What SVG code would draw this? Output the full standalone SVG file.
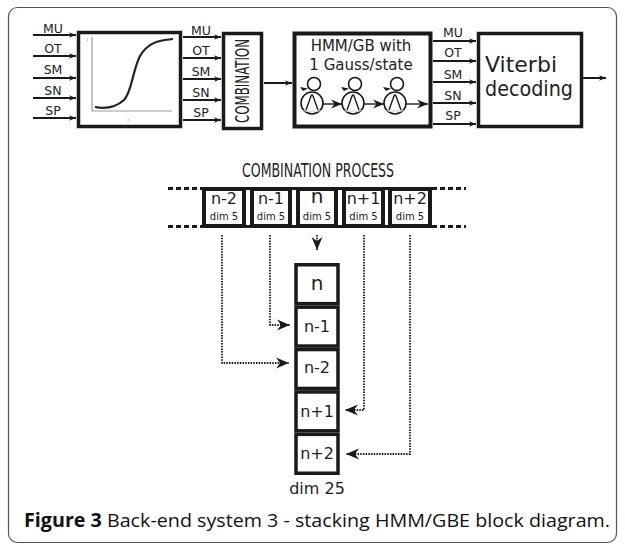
<svg xmlns="http://www.w3.org/2000/svg" width="625" height="546" viewBox="0 0 625 546">
<style>
.lbl{font-family:"DejaVu Sans",sans-serif;font-size:12.5px;fill:#222;text-anchor:middle}
.big{font-family:"DejaVu Sans",sans-serif;fill:#222}
.cond{font-family:"DejaVu Sans Condensed","Liberation Sans Narrow",sans-serif;fill:#222}
.box{fill:#fff;stroke:#1a1a1a}
.sig{stroke:#1a1a1a;stroke-width:2;fill:none}
.dot{stroke:#1a1a1a;stroke-width:1.8;fill:none;stroke-dasharray:1.5 1.2}
.st{fill:#fff;stroke:#1a1a1a;stroke-width:1.6}
</style>
<defs>
<marker id="sm" markerUnits="userSpaceOnUse" markerWidth="10" markerHeight="8" refX="7" refY="4" orient="auto" overflow="visible">
<path d="M7,4 L0,1.2 L2,4 L0,6.8 Z" fill="#1a1a1a"/>
</marker>
<marker id="dart" markerUnits="userSpaceOnUse" markerWidth="14" markerHeight="12" refX="13" refY="6" orient="auto" overflow="visible">
<path d="M13,6 L0,0.5 L4,6 L0,11.5 Z" fill="#1a1a1a"/>
</marker>
<marker id="dartS" markerUnits="userSpaceOnUse" markerWidth="12" markerHeight="10" refX="11" refY="5" orient="auto" overflow="visible">
<path d="M11,5 L0,0.5 L3.5,5 L0,9.5 Z" fill="#1a1a1a"/>
</marker>
</defs>
<rect x="8.5" y="7.5" width="608" height="535" rx="9" fill="#fff" stroke="#555" stroke-width="1.2"/>

<g id="connectors">
<g class="sig" marker-end="url(#sm)">
<path d="M33,35 H76"/><path d="M33,56 H76"/><path d="M33,78 H76"/><path d="M33,98 H76"/><path d="M33,118 H76"/>
<path d="M183,37 H221"/><path d="M183,58 H221"/><path d="M183,79 H221"/><path d="M183,100 H221"/><path d="M183,120 H221"/>
<path d="M264,83 H292"/>
<path d="M433,41 H476"/><path d="M433,61 H476"/><path d="M433,82 H476"/><path d="M433,103 H476"/><path d="M433,124 H476"/>
<path d="M583,78 H606"/>
</g>
<g class="dot">
<path d="M317,235 V250" marker-end="url(#dart)"/>
<path d="M270,235 V325 H290" marker-end="url(#dart)"/>
<path d="M222,235 V363 H289" marker-end="url(#dart)"/>
<path d="M364,235 V410 H345" marker-end="url(#dart)"/>
<path d="M410,235 V454 H346" marker-end="url(#dart)"/>
</g>
</g>

<g id="input-labels">
<text class="lbl" x="53" y="33">MU</text>
<text class="lbl" x="53" y="53">OT</text>
<text class="lbl" x="53" y="74">SM</text>
<text class="lbl" x="53" y="95">SN</text>
<text class="lbl" x="53" y="115">SP</text>
</g>

<g id="sigmoid">
<rect class="box" x="78.5" y="32.5" width="102" height="94" stroke-width="3.5"/>
<path d="M92,37 V111 H172" fill="none" stroke="#999" stroke-width="1.2"/>
<path d="M95,107 C105,109 115,108 124,100 C132,92 132,72 140,56 C147,44 156,41 165,40 L173,39" fill="none" stroke="#222" stroke-width="2.2"/>
<text x="86" y="41" font-family="DejaVu Sans,sans-serif" font-size="4" fill="#999">1</text>
<text x="127" y="121" font-family="DejaVu Sans,sans-serif" font-size="4" fill="#999">x</text>
</g>

<g id="mid-labels">
<text class="lbl" x="201" y="35">MU</text>
<text class="lbl" x="201" y="55">OT</text>
<text class="lbl" x="201" y="76">SM</text>
<text class="lbl" x="201" y="97">SN</text>
<text class="lbl" x="201" y="117">SP</text>
</g>

<g id="combination">
<rect class="box" x="223.5" y="33.5" width="38" height="95" stroke-width="3.5"/>
<text class="cond" transform="translate(249,81) rotate(-90)" x="0" y="0" font-size="19" text-anchor="middle" textLength="84" lengthAdjust="spacingAndGlyphs">COMBINATION</text>
</g>

<g id="hmm">
<rect class="box" x="294.5" y="33.5" width="136" height="93" stroke-width="4"/>
<text class="big" x="361" y="51" font-size="15" text-anchor="middle">HMM/GB with</text>
<text class="big" x="361" y="70" font-size="15" text-anchor="middle">1 Gauss/state</text>
<g id="states">
<circle cx="314" cy="84" r="6.5" fill="none" stroke="#1a1a1a" stroke-width="1.6"/>
<circle cx="355" cy="84" r="6.5" fill="none" stroke="#1a1a1a" stroke-width="1.6"/>
<circle cx="397" cy="84" r="6.5" fill="none" stroke="#1a1a1a" stroke-width="1.6"/>
<path d="M300,87 L308,88.5 L303,91 Z" fill="#1a1a1a"/>
<path d="M341,87 L349,88.5 L344,91 Z" fill="#1a1a1a"/>
<path d="M383,87 L391,88.5 L386,91 Z" fill="#1a1a1a"/>
<circle class="st" cx="312" cy="103" r="11"/>
<circle class="st" cx="353" cy="103" r="11"/>
<circle class="st" cx="395" cy="103" r="11"/>
<g fill="none" stroke="#1a1a1a" stroke-width="1.4">
<path d="M306,110 L311,96 Q312,94 313,96 L318,110"/>
<path d="M347,110 L352,96 Q353,94 354,96 L359,110"/>
<path d="M389,110 L394,96 Q395,94 396,96 L401,110"/>
</g>
<g stroke="#ccc" stroke-width="1">
<path d="M303,111 H321"/><path d="M344,111 H362"/><path d="M386,111 H404"/>
</g>
<g stroke="#1a1a1a" stroke-width="1.4" marker-end="url(#dartS)">
<path d="M323,104 H342"/><path d="M364,104 H384"/><path d="M406,104 H428"/>
</g>
</g>
</g>

<g id="out-labels">
<text class="lbl" x="453" y="37">MU</text>
<text class="lbl" x="453" y="57">OT</text>
<text class="lbl" x="453" y="79">SM</text>
<text class="lbl" x="453" y="100">SN</text>
<text class="lbl" x="453" y="120">SP</text>
</g>

<g id="viterbi">
<rect class="box" x="478.5" y="33.5" width="103" height="93" stroke-width="3.5"/>
<text class="big" x="485" y="72" font-size="22" textLength="72" lengthAdjust="spacingAndGlyphs">Viterbi</text>
<text class="big" x="485" y="96" font-size="22" textLength="88" lengthAdjust="spacingAndGlyphs">decoding</text>
</g>

<g id="combination-process">
<text class="cond" x="318" y="177" font-size="20" text-anchor="middle" textLength="152" lengthAdjust="spacingAndGlyphs">COMBINATION PROCESS</text>
<path d="M202,188.5 H432 M202,226.5 H432" stroke="#1a1a1a" stroke-width="3"/>
<path d="M168,188.5 H202 M168,226.5 H202 M432,188.5 H466 M432,226.5 H466" stroke="#1a1a1a" stroke-width="3" stroke-dasharray="5 3"/>
</g>

<g id="seq-n-2">
<rect class="box" x="204" y="189" width="40" height="37" stroke-width="4"/>
<text class="big" x="224" y="204" font-size="16" text-anchor="middle">n-2</text>
<text class="big" x="224" y="220" font-size="10" text-anchor="middle">dim 5</text>
</g>
<g id="seq-n-1">
<rect class="box" x="252" y="189" width="38" height="37" stroke-width="4"/>
<text class="big" x="271" y="204" font-size="16" text-anchor="middle">n-1</text>
<text class="big" x="271" y="220" font-size="10" text-anchor="middle">dim 5</text>
</g>
<g id="seq-n">
<rect class="box" x="298" y="189" width="38" height="37" stroke-width="4"/>
<text class="big" x="317" y="203" font-size="20" text-anchor="middle">n</text>
<text class="big" x="317" y="220" font-size="10" text-anchor="middle">dim 5</text>
</g>
<g id="seq-n+1">
<rect class="box" x="344" y="189" width="39" height="37" stroke-width="4"/>
<text class="big" x="363.5" y="204" font-size="16" text-anchor="middle">n+1</text>
<text class="big" x="363.5" y="220" font-size="10" text-anchor="middle">dim 5</text>
</g>
<g id="seq-n+2">
<rect class="box" x="390" y="189" width="40" height="37" stroke-width="4"/>
<text class="big" x="410" y="204" font-size="16" text-anchor="middle">n+2</text>
<text class="big" x="410" y="220" font-size="10" text-anchor="middle">dim 5</text>
</g>

<g id="stack-n">
<rect class="box" x="296" y="264.75" width="42" height="38.9" stroke-width="3.5"/>
<text class="big" x="317" y="290" font-size="20" text-anchor="middle">n</text>
</g>
<g id="stack-n-1">
<rect class="box" x="296" y="307.15" width="42" height="38.9" stroke-width="3.5"/>
<text class="big" x="317" y="332" font-size="16" text-anchor="middle">n-1</text>
</g>
<g id="stack-n-2">
<rect class="box" x="296" y="349.55" width="42" height="38.9" stroke-width="3.5"/>
<text class="big" x="317" y="373" font-size="16" text-anchor="middle">n-2</text>
</g>
<g id="stack-n+1">
<rect class="box" x="296" y="391.95" width="42" height="38.9" stroke-width="3.5"/>
<text class="big" x="317" y="417" font-size="16" text-anchor="middle">n+1</text>
</g>
<g id="stack-n+2">
<rect class="box" x="296" y="434.35" width="42" height="38.9" stroke-width="3.5"/>
<text class="big" x="317" y="459" font-size="16" text-anchor="middle">n+2</text>
</g>
<text class="big" x="317" y="494" font-size="16" text-anchor="middle">dim 25</text>

<text x="24" y="527" font-family="'Open Sans','Noto Sans',sans-serif" font-size="19" fill="#111" textLength="586" lengthAdjust="spacingAndGlyphs"><tspan font-weight="bold">Figure 3</tspan> Back-end system 3 - stacking HMM/GBE block diagram.</text>
</svg>
